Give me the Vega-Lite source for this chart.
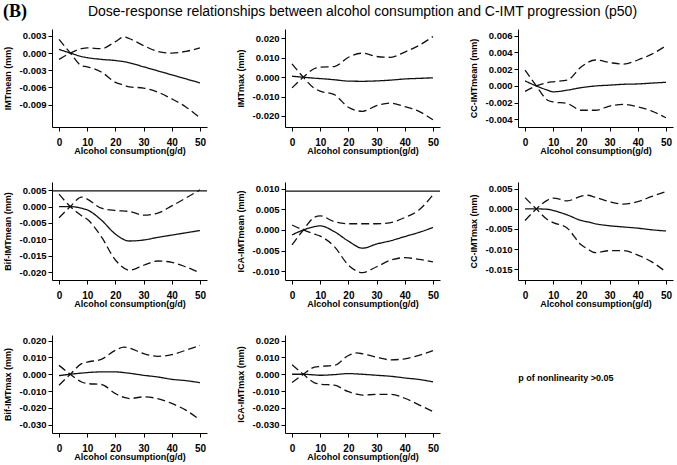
{
  "$schema": "https://vega.github.io/schema/vega-lite/v6.json",
  "background": "white",
  "padding": {"left": 3, "top": 3, "right": 2, "bottom": 2},
  "bounds": "flush",
  "columns": 3,
  "spacing": {"row": 55, "column": 78},
  "datasets": {
    "curves": [
      {"p":"P1","x":0,"m":0.00064,"a":-0.0011,"b":0.0024},
      {"p":"P1","x":4,"m":0,"a":0,"b":0},
      {"p":"P1","x":8,"m":-0.0006,"a":0.00076,"b":-0.0022},
      {"p":"P1","x":10,"m":-0.0008,"a":0.0009,"b":-0.0024},
      {"p":"P1","x":15,"m":-0.0011,"a":0.00076,"b":-0.0033},
      {"p":"P1","x":20,"m":-0.0013,"a":0.002,"b":-0.0051},
      {"p":"P1","x":23,"m":-0.0015,"a":0.0028,"b":-0.0056},
      {"p":"P1","x":25,"m":-0.0017,"a":0.0025,"b":-0.0059},
      {"p":"P1","x":30,"m":-0.0024,"a":0.0013,"b":-0.0061},
      {"p":"P1","x":35,"m":-0.0031,"a":0.0003,"b":-0.0068},
      {"p":"P1","x":40,"m":-0.0038,"a":0.0,"b":-0.008},
      {"p":"P1","x":45,"m":-0.0045,"a":0.0003,"b":-0.0094},
      {"p":"P1","x":50,"m":-0.0052,"a":0.0009,"b":-0.0113},

      {"p":"P2","x":0,"m":0.0005,"a":-0.0055,"b":0.0069},
      {"p":"P2","x":4,"m":0,"a":0,"b":0},
      {"p":"P2","x":8,"m":-0.0005,"a":0.0045,"b":-0.0058},
      {"p":"P2","x":10,"m":-0.0007,"a":0.0052,"b":-0.0072},
      {"p":"P2","x":15,"m":-0.0013,"a":0.0055,"b":-0.009},
      {"p":"P2","x":20,"m":-0.002,"a":0.0103,"b":-0.0155},
      {"p":"P2","x":25,"m":-0.0021,"a":0.0124,"b":-0.0176},
      {"p":"P2","x":30,"m":-0.0019,"a":0.0107,"b":-0.0147},
      {"p":"P2","x":35,"m":-0.0015,"a":0.0103,"b":-0.0134},
      {"p":"P2","x":40,"m":-0.0009,"a":0.013,"b":-0.0152},
      {"p":"P2","x":45,"m":-0.0006,"a":0.0164,"b":-0.0176},
      {"p":"P2","x":50,"m":-0.0003,"a":0.021,"b":-0.022},

      {"p":"P3","x":0,"m":0.0006,"a":-0.00064,"b":0.0019},
      {"p":"P3","x":4,"m":0,"a":0,"b":0},
      {"p":"P3","x":8,"m":-0.0005,"a":0.0004,"b":-0.0017},
      {"p":"P3","x":10,"m":-0.0007,"a":0.0005,"b":-0.0019},
      {"p":"P3","x":15,"m":-0.0005,"a":0.0007,"b":-0.0021},
      {"p":"P3","x":20,"m":-0.0002,"a":0.0023,"b":-0.0029},
      {"p":"P3","x":25,"m":0.0,"a":0.0031,"b":-0.0029},
      {"p":"P3","x":30,"m":0.0001,"a":0.0028,"b":-0.0024},
      {"p":"P3","x":35,"m":0.0002,"a":0.0026,"b":-0.0022},
      {"p":"P3","x":40,"m":0.00024,"a":0.0031,"b":-0.0025},
      {"p":"P3","x":45,"m":0.00034,"a":0.0038,"b":-0.003},
      {"p":"P3","x":50,"m":0.00044,"a":0.0048,"b":-0.0038},

      {"p":"P4","x":0,"m":0,"a":-0.0034,"b":0.0038},
      {"p":"P4","x":4,"m":0,"a":0,"b":0},
      {"p":"P4","x":8,"m":-0.0005,"a":0.0029,"b":-0.0028},
      {"p":"P4","x":10,"m":-0.001,"a":0.0023,"b":-0.0039},
      {"p":"P4","x":15,"m":-0.0041,"a":-0.0005,"b":-0.0092},
      {"p":"P4","x":20,"m":-0.0084,"a":-0.0012,"b":-0.0163},
      {"p":"P4","x":25,"m":-0.0105,"a":-0.0015,"b":-0.0194},
      {"p":"P4","x":30,"m":-0.0102,"a":-0.0026,"b":-0.0179},
      {"p":"P4","x":35,"m":-0.0094,"a":-0.002,"b":-0.0166},
      {"p":"P4","x":40,"m":-0.0087,"a":0.0002,"b":-0.017},
      {"p":"P4","x":45,"m":-0.008,"a":0.0026,"b":-0.0184},
      {"p":"P4","x":50,"m":-0.0073,"a":0.0051,"b":-0.0202},

      {"p":"P5","x":0,"m":-0.0012,"a":-0.0036,"b":0.0012},
      {"p":"P5","x":4,"m":0,"a":0,"b":0},
      {"p":"P5","x":8,"m":0.0008,"a":0.0031,"b":-0.001},
      {"p":"P5","x":10,"m":0.001,"a":0.0034,"b":-0.0015},
      {"p":"P5","x":15,"m":-0.0004,"a":0.002,"b":-0.004},
      {"p":"P5","x":20,"m":-0.0027,"a":0.0015,"b":-0.0085},
      {"p":"P5","x":25,"m":-0.0044,"a":0.0015,"b":-0.0103},
      {"p":"P5","x":30,"m":-0.0034,"a":0.0015,"b":-0.0089},
      {"p":"P5","x":35,"m":-0.0026,"a":0.0018,"b":-0.0073},
      {"p":"P5","x":40,"m":-0.0016,"a":0.003,"b":-0.0067},
      {"p":"P5","x":45,"m":-0.0006,"a":0.0048,"b":-0.0071},
      {"p":"P5","x":50,"m":0.0006,"a":0.0085,"b":-0.0077},

      {"p":"P6","x":0,"m":0,"a":-0.0029,"b":0.0028},
      {"p":"P6","x":4,"m":0,"a":0,"b":0},
      {"p":"P6","x":8,"m":-0.0001,"a":0.0022,"b":-0.0027},
      {"p":"P6","x":10,"m":-0.0004,"a":0.0027,"b":-0.0034},
      {"p":"P6","x":15,"m":-0.0015,"a":0.002,"b":-0.0048},
      {"p":"P6","x":20,"m":-0.0029,"a":0.0032,"b":-0.009},
      {"p":"P6","x":22,"m":-0.0032,"a":0.0034,"b":-0.0099},
      {"p":"P6","x":25,"m":-0.0037,"a":0.0029,"b":-0.0109},
      {"p":"P6","x":30,"m":-0.0042,"a":0.0018,"b":-0.0104},
      {"p":"P6","x":35,"m":-0.0045,"a":0.0012,"b":-0.0104},
      {"p":"P6","x":40,"m":-0.0048,"a":0.0018,"b":-0.0115},
      {"p":"P6","x":45,"m":-0.0052,"a":0.0031,"b":-0.0132},
      {"p":"P6","x":50,"m":-0.0055,"a":0.0043,"b":-0.0157},

      {"p":"P7","x":0,"m":-0.0008,"a":-0.0065,"b":0.0053},
      {"p":"P7","x":4,"m":0,"a":0,"b":0},
      {"p":"P7","x":8,"m":0.0007,"a":0.0063,"b":-0.0046},
      {"p":"P7","x":10,"m":0.001,"a":0.0073,"b":-0.0055},
      {"p":"P7","x":15,"m":0.0014,"a":0.0089,"b":-0.0061},
      {"p":"P7","x":20,"m":0.0014,"a":0.0143,"b":-0.0115},
      {"p":"P7","x":23,"m":0.001,"a":0.0162,"b":-0.0138},
      {"p":"P7","x":25,"m":0.0006,"a":0.0156,"b":-0.0145},
      {"p":"P7","x":30,"m":-0.0006,"a":0.0123,"b":-0.0135},
      {"p":"P7","x":35,"m":-0.0016,"a":0.0107,"b":-0.0145},
      {"p":"P7","x":40,"m":-0.003,"a":0.0117,"b":-0.0174},
      {"p":"P7","x":45,"m":-0.0038,"a":0.0143,"b":-0.0214},
      {"p":"P7","x":50,"m":-0.005,"a":0.0172,"b":-0.0273},

      {"p":"P8","x":0,"m":0,"a":-0.0049,"b":0.0057},
      {"p":"P8","x":4,"m":0,"a":0,"b":0},
      {"p":"P8","x":8,"m":-0.0004,"a":0.0043,"b":-0.0051},
      {"p":"P8","x":10,"m":-0.0006,"a":0.0047,"b":-0.0059},
      {"p":"P8","x":15,"m":-0.0002,"a":0.0053,"b":-0.0065},
      {"p":"P8","x":20,"m":0.0004,"a":0.0112,"b":-0.0104},
      {"p":"P8","x":23,"m":0.0002,"a":0.0127,"b":-0.0118},
      {"p":"P8","x":25,"m":0.0,"a":0.0122,"b":-0.0124},
      {"p":"P8","x":30,"m":-0.0006,"a":0.0102,"b":-0.012},
      {"p":"P8","x":35,"m":-0.0012,"a":0.0086,"b":-0.012},
      {"p":"P8","x":40,"m":-0.0022,"a":0.0092,"b":-0.0143},
      {"p":"P8","x":45,"m":-0.0031,"a":0.0112,"b":-0.0182},
      {"p":"P8","x":50,"m":-0.0045,"a":0.0141,"b":-0.0222}
    ],
    "hl": [
      {"p":"P4","y":0.0048},
      {"p":"P5","y":0.0094}
    ],
    "note": [
      {"label":"p of nonlinearity >0.05","x":14.5,"y":0.56}
    ]
  },
  "concat": [
    {
      "width": 155, "height": 98,
      "title": {"text":"(B)","anchor":"start","frame":"bounds","font":"Liberation Serif","fontSize":18,"fontWeight":"bold","color":"#000","offset":8},
      "data": {"name":"curves"},
      "transform": [{"filter":{"field":"p","equal":"P1"}},{"fold":["m","a","b"],"as":["s","v"]}],
      "mark": {"type":"line","interpolate":"monotone","strokeWidth":1.3,"color":"#111"},
      "encoding": {
        "x": {"field":"x","type":"quantitative","scale":{"domain":[-2.5,52.5],"nice":false,"zero":false},"axis":{"values":[0,10,20,30,40,50],"title":"Alcohol consumption(g/d)"}},
        "y": {"field":"v","type":"quantitative","scale":{"domain":[-0.0129,0.0042],"nice":false,"zero":false},"axis":{"values":[-0.009,-0.006,-0.003,0,0.003],"title":"IMTmean (mm)","labelOverlap":false,"labelExpr":"replace(format(datum.value,'.3f'),'\u2212','-')"}},
        "strokeDash": {"field":"s","type":"nominal","scale":{"domain":["m","a","b"],"range":[[1,0],[8,4],[8,4]]},"legend":null},
        "detail": {"field":"s"}
      }
    },
    {
      "width": 155, "height": 98,
      "title": {"text":"Dose-response relationships between alcohol consumption and C-IMT progression (p50)","anchor":"middle","frame":"group","font":"Liberation Sans","fontSize":14,"fontWeight":"normal","color":"#000","offset":10},
      "data": {"name":"curves"},
      "transform": [{"filter":{"field":"p","equal":"P2"}},{"fold":["m","a","b"],"as":["s","v"]}],
      "mark": {"type":"line","interpolate":"monotone","strokeWidth":1.3,"color":"#111"},
      "encoding": {
        "x": {"field":"x","type":"quantitative","scale":{"domain":[-2.5,52.5],"nice":false,"zero":false},"axis":{"values":[0,10,20,30,40,50],"title":"Alcohol consumption(g/d)"}},
        "y": {"field":"v","type":"quantitative","scale":{"domain":[-0.0257,0.0249],"nice":false,"zero":false},"axis":{"values":[-0.02,-0.01,0,0.01,0.02],"title":"IMTmax (mm)","labelOverlap":false,"labelExpr":"replace(format(datum.value,'.3f'),'\u2212','-')"}},
        "strokeDash": {"field":"s","type":"nominal","scale":{"domain":["m","a","b"],"range":[[1,0],[8,4],[8,4]]},"legend":null},
        "detail": {"field":"s"}
      }
    },
    {
      "width": 155, "height": 98,
      "data": {"name":"curves"},
      "transform": [{"filter":{"field":"p","equal":"P3"}},{"fold":["m","a","b"],"as":["s","v"]}],
      "mark": {"type":"line","interpolate":"monotone","strokeWidth":1.3,"color":"#111"},
      "encoding": {
        "x": {"field":"x","type":"quantitative","scale":{"domain":[-2.5,52.5],"nice":false,"zero":false},"axis":{"values":[0,10,20,30,40,50],"title":"Alcohol consumption(g/d)"}},
        "y": {"field":"v","type":"quantitative","scale":{"domain":[-0.0049,0.0068],"nice":false,"zero":false},"axis":{"values":[-0.004,-0.002,0,0.002,0.004,0.006],"title":"CC-IMTmean (mm)","labelOverlap":false,"labelExpr":"replace(format(datum.value,'.3f'),'\u2212','-')"}},
        "strokeDash": {"field":"s","type":"nominal","scale":{"domain":["m","a","b"],"range":[[1,0],[8,4],[8,4]]},"legend":null},
        "detail": {"field":"s"}
      }
    },
    {
      "width": 155, "height": 98,
      "layer": [
        {
          "data": {"name":"curves"},
          "transform": [{"filter":{"field":"p","equal":"P4"}},{"fold":["m","a","b"],"as":["s","v"]}],
          "mark": {"type":"line","interpolate":"monotone","strokeWidth":1.3,"color":"#111"},
          "encoding": {
            "x": {"field":"x","type":"quantitative","scale":{"domain":[-2.5,52.5],"nice":false,"zero":false},"axis":{"values":[0,10,20,30,40,50],"title":"Alcohol consumption(g/d)"}},
            "y": {"field":"v","type":"quantitative","scale":{"domain":[-0.0224,0.0075],"nice":false,"zero":false},"axis":{"values":[-0.02,-0.015,-0.01,-0.005,0,0.005],"title":"Bif-IMTmean (mm)","labelOverlap":false,"labelExpr":"replace(format(datum.value,'.3f'),'\u2212','-')"}},
            "strokeDash": {"field":"s","type":"nominal","scale":{"domain":["m","a","b"],"range":[[1,0],[8,4],[8,4]]},"legend":null},
            "detail": {"field":"s"}
          }
        },
        {
          "data": {"name":"hl"},
          "transform": [{"filter":{"field":"p","equal":"P4"}}],
          "mark": {"type":"rule","color":"#111","strokeWidth":1.3},
          "encoding": {"y": {"field":"y","type":"quantitative","axis":{"values":[-0.02,-0.015,-0.01,-0.005,0,0.005],"title":"Bif-IMTmean (mm)","labelOverlap":false,"labelExpr":"replace(format(datum.value,'.3f'),'\u2212','-')"}}}
        }
      ]
    },
    {
      "width": 155, "height": 98,
      "layer": [
        {
          "data": {"name":"curves"},
          "transform": [{"filter":{"field":"p","equal":"P5"}},{"fold":["m","a","b"],"as":["s","v"]}],
          "mark": {"type":"line","interpolate":"monotone","strokeWidth":1.3,"color":"#111"},
          "encoding": {
            "x": {"field":"x","type":"quantitative","scale":{"domain":[-2.5,52.5],"nice":false,"zero":false},"axis":{"values":[0,10,20,30,40,50],"title":"Alcohol consumption(g/d)"}},
            "y": {"field":"v","type":"quantitative","scale":{"domain":[-0.0121,0.0116],"nice":false,"zero":false},"axis":{"values":[-0.01,-0.005,0,0.005,0.01],"title":"ICA-IMTmean (mm)","labelOverlap":false,"labelExpr":"replace(format(datum.value,'.3f'),'\u2212','-')"}},
            "strokeDash": {"field":"s","type":"nominal","scale":{"domain":["m","a","b"],"range":[[1,0],[8,4],[8,4]]},"legend":null},
            "detail": {"field":"s"}
          }
        },
        {
          "data": {"name":"hl"},
          "transform": [{"filter":{"field":"p","equal":"P5"}}],
          "mark": {"type":"rule","color":"#111","strokeWidth":1.3},
          "encoding": {"y": {"field":"y","type":"quantitative","axis":{"values":[-0.01,-0.005,0,0.005,0.01],"title":"ICA-IMTmean (mm)","labelOverlap":false,"labelExpr":"replace(format(datum.value,'.3f'),'\u2212','-')"}}}
        }
      ]
    },
    {
      "width": 155, "height": 98,
      "data": {"name":"curves"},
      "transform": [{"filter":{"field":"p","equal":"P6"}},{"fold":["m","a","b"],"as":["s","v"]}],
      "mark": {"type":"line","interpolate":"monotone","strokeWidth":1.3,"color":"#111"},
      "encoding": {
        "x": {"field":"x","type":"quantitative","scale":{"domain":[-2.5,52.5],"nice":false,"zero":false},"axis":{"values":[0,10,20,30,40,50],"title":"Alcohol consumption(g/d)"}},
        "y": {"field":"v","type":"quantitative","scale":{"domain":[-0.0177,0.0067],"nice":false,"zero":false},"axis":{"values":[-0.015,-0.01,-0.005,0,0.005],"title":"CC-IMTmax (mm)","labelOverlap":false,"labelExpr":"replace(format(datum.value,'.3f'),'\u2212','-')"}},
        "strokeDash": {"field":"s","type":"nominal","scale":{"domain":["m","a","b"],"range":[[1,0],[8,4],[8,4]]},"legend":null},
        "detail": {"field":"s"}
      }
    },
    {
      "width": 155, "height": 98,
      "data": {"name":"curves"},
      "transform": [{"filter":{"field":"p","equal":"P7"}},{"fold":["m","a","b"],"as":["s","v"]}],
      "mark": {"type":"line","interpolate":"monotone","strokeWidth":1.3,"color":"#111"},
      "encoding": {
        "x": {"field":"x","type":"quantitative","scale":{"domain":[-2.5,52.5],"nice":false,"zero":false},"axis":{"values":[0,10,20,30,40,50],"title":"Alcohol consumption(g/d)"}},
        "y": {"field":"v","type":"quantitative","scale":{"domain":[-0.035,0.0234],"nice":false,"zero":false},"axis":{"values":[-0.03,-0.02,-0.01,0,0.01,0.02],"title":"Bif-IMTmax (mm)","labelOverlap":false,"labelExpr":"replace(format(datum.value,'.3f'),'\u2212','-')"}},
        "strokeDash": {"field":"s","type":"nominal","scale":{"domain":["m","a","b"],"range":[[1,0],[8,4],[8,4]]},"legend":null},
        "detail": {"field":"s"}
      }
    },
    {
      "width": 155, "height": 98,
      "data": {"name":"curves"},
      "transform": [{"filter":{"field":"p","equal":"P8"}},{"fold":["m","a","b"],"as":["s","v"]}],
      "mark": {"type":"line","interpolate":"monotone","strokeWidth":1.3,"color":"#111"},
      "encoding": {
        "x": {"field":"x","type":"quantitative","scale":{"domain":[-2.5,52.5],"nice":false,"zero":false},"axis":{"values":[0,10,20,30,40,50],"title":"Alcohol consumption(g/d)"}},
        "y": {"field":"v","type":"quantitative","scale":{"domain":[-0.035,0.0234],"nice":false,"zero":false},"axis":{"values":[-0.03,-0.02,-0.01,0,0.01,0.02],"title":"ICA-IMTmax (mm)","labelOverlap":false,"labelExpr":"replace(format(datum.value,'.3f'),'\u2212','-')"}},
        "strokeDash": {"field":"s","type":"nominal","scale":{"domain":["m","a","b"],"range":[[1,0],[8,4],[8,4]]},"legend":null},
        "detail": {"field":"s"}
      }
    },
    {
      "width": 155, "height": 98,
      "data": {"name":"note"},
      "mark": {"type":"text","font":"Liberation Sans","fontSize":9,"fontWeight":"bold","color":"#000","align":"center","baseline":"middle"},
      "encoding": {
        "x": {"field":"x","type":"quantitative","scale":{"domain":[-2.5,52.5],"nice":false,"zero":false},"axis":null},
        "y": {"field":"y","type":"quantitative","scale":{"domain":[0,1],"nice":false,"zero":false},"axis":null},
        "text": {"field":"label"}
      }
    }
  ],
  "config": {
    "view": {"stroke": null},
    "font": "Liberation Sans",
    "axis": {"grid": false, "domainColor": "#000", "tickColor": "#000", "labelColor": "#000", "titleColor": "#000", "labelFont": "Liberation Sans", "titleFont": "Liberation Sans", "labelFontWeight": "bold", "titleFontWeight": "bold", "labelFontSize": 10, "titleFontSize": 9, "tickSize": 4, "domainWidth": 1, "tickWidth": 1, "labelOverlap": false},
    "axisX": {"labelPadding": 6, "titlePadding": -1, "labelFlush": false},
    "axisY": {"labelPadding": 2, "titlePadding": 7, "labelFontSize": 9.5}
  }
}
